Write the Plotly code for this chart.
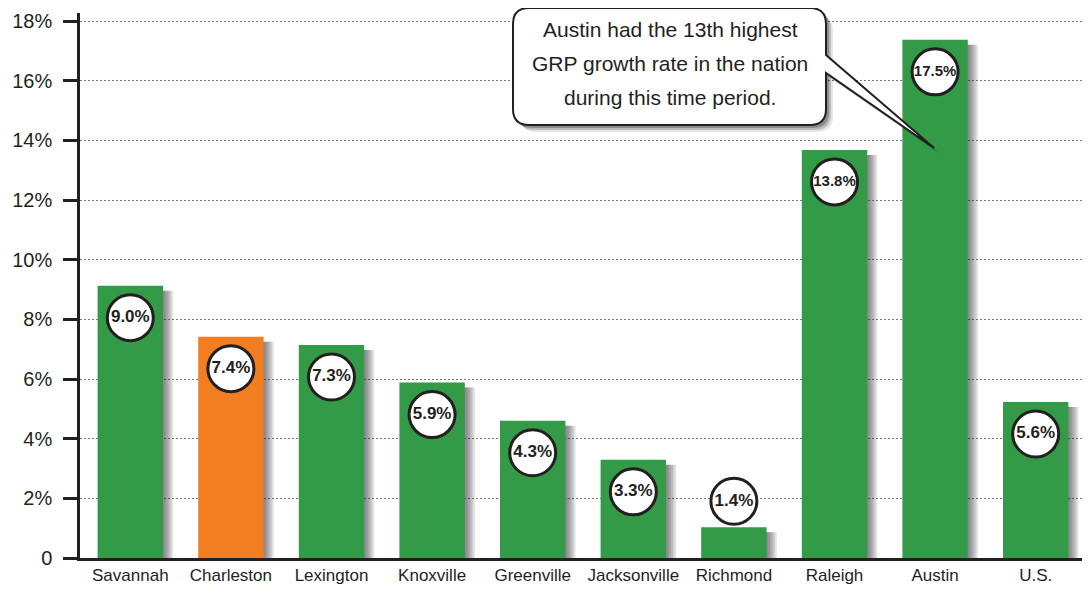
import plotly.graph_objects as go

# ---- data ----
cities = ["Savannah", "Charleston", "Lexington", "Knoxville", "Greenville",
          "Jacksonville", "Richmond", "Raleigh", "Austin", "U.S."]
bar_heights = [9.13, 7.42, 7.14, 5.88, 4.60, 3.29, 1.03, 13.68, 17.37, 5.23]
value_labels = ["9.0%", "7.4%", "7.3%", "5.9%", "4.3%", "3.3%", "1.4%",
                "13.8%", "17.5%", "5.6%"]
highlight_city = "Charleston"
tick_values = [0, 2, 4, 6, 8, 10, 12, 14, 16, 18]
tick_labels = ["0", "2%", "4%", "6%", "8%", "10%", "12%", "14%", "16%", "18%"]
callout_lines = ["Austin had the 13th highest",
                 "GRP growth rate in the nation",
                 "during this time period."]
callout_city = "Austin"

# ---- styling ----
GREEN = "#339b48"
ORANGE = "#f37e22"
INK = "#231f20"
FONT = "Liberation Sans, Arial, Helvetica, sans-serif"

OFF = 8                      # page body margin
W, H = 1090 - OFF, 589 - OFF
ML, MR, MT, MB = 72, 4, 5, 31
PW, PH = W - ML - MR, H - MT - MB
YMAX = 18.27
n = len(cities)
px_x = n / PW          # category units per pixel
px_y = YMAX / PH       # y units per pixel
BW = 0.65

colors = [ORANGE if c == highlight_city else GREEN for c in cities]

fig = go.Figure()

# soft drop shadow to the right of each bar
for k in range(1, 7):
    shift = 1.7 * k * px_x
    fig.add_trace(go.Bar(
        x=cities, y=[v - 5 * px_y for v in bar_heights],
        width=BW, offset=-BW / 2 + shift,
        marker=dict(color="rgba(40,40,50,0.12)", line=dict(width=0)),
        hoverinfo="skip", showlegend=False))

fig.add_trace(go.Bar(
    x=cities, y=bar_heights, width=BW, offset=-BW / 2,
    marker=dict(color=colors, line=dict(width=0)),
    showlegend=False))

# value badges: inside the bar near the top, above it if the bar is short
lab_y = [v - 32 * px_y if v > 2.5 else v + 26 * px_y for v in bar_heights]
lab_size = [17 if len(t) <= 4 else 15 for t in value_labels]
fig.add_trace(go.Scatter(
    x=cities, y=lab_y, mode="markers+text", text=value_labels,
    textposition="middle center",
    textfont=dict(family="Liberation Sans Narrow, " + FONT, size=lab_size,
                  color=INK, weight="bold"),
    marker=dict(size=46, color="white", line=dict(color=INK, width=3)),
    showlegend=False, hoverinfo="skip"))


# ---- callout box with pointer (screen pixel geometry -> paper coords) ----
def P(sx, sy):
    x = sx - OFF
    y = sy - OFF
    return f"{(x - ML) / PW:.5f},{(MT + PH - y) / PH:.5f}"


def callout_path(dx=0.0, dy=0.0):
    L, R, T, B, r = 513 + dx, 826 + dx, 8 + dy, 125 + dy, 16
    ci = cities.index(callout_city)
    tipx = OFF + ML + (ci + 0.5) * PW / n + dx - 1
    tipy = 148 + dy
    return (f"M{P(L + r, T)} L{P(R - r, T)} Q{P(R, T)} {P(R, T + r)} "
            f"L{P(R, 55 + dy)} L{P(tipx, tipy)} L{P(R, 73 + dy)} "
            f"L{P(R, B - r)} Q{P(R, B)} {P(R - r, B)} L{P(L + r, B)} "
            f"Q{P(L, B)} {P(L, B - r)} L{P(L, T + r)} Q{P(L, T)} {P(L + r, T)} Z")


shapes = []
for d, a in [(7, 0.10), (5, 0.18), (3, 0.25)]:
    shapes.append(dict(type="path", xref="paper", yref="paper", path=callout_path(d, d),
                       fillcolor=f"rgba(0,0,0,{a})", line=dict(width=0), layer="above"))
shapes.append(dict(type="path", xref="paper", yref="paper", path=callout_path(),
                   fillcolor="white", line=dict(color=INK, width=2), layer="above"))

annotations = []
for i, line in enumerate(callout_lines):
    sx, sy = 670, 30 + i * 33.5
    annotations.append(dict(
        xref="paper", yref="paper",
        x=(sx - OFF - ML) / PW, y=(MT + PH - (sy - OFF)) / PH,
        xanchor="center", yanchor="middle", showarrow=False,
        text=line, font=dict(family=FONT, size=21, color=INK)))

fig.update_layout(
    width=W, height=H, template="none",
    margin=dict(l=ML, r=MR, t=MT, b=MB, autoexpand=False),
    paper_bgcolor="white", plot_bgcolor="white",
    barmode="overlay",
    font=dict(family=FONT, color=INK),
    shapes=shapes,
    annotations=annotations,
    xaxis=dict(type="category", range=[-0.5, n - 0.5], showgrid=False,
               showline=True, linecolor=INK, linewidth=2.5, ticks="",
               tickangle=0,
               tickfont=dict(family=FONT, size=17, color=INK),
               automargin=False, fixedrange=True),
    yaxis=dict(range=[0, YMAX], tickvals=tick_values, ticktext=tick_labels,
               showgrid=True, gridcolor="#7a7a7a", griddash="1.5px,2.5px", gridwidth=1,
               zeroline=False, showline=True, linecolor=INK, linewidth=2.5,
               ticks="outside", ticklen=14, tickwidth=2.5, tickcolor=INK,
               ticklabelstandoff=7,
               tickfont=dict(family=FONT, size=20, color=INK),
               automargin=False, fixedrange=True),
)

fig.write_html("out.html")
